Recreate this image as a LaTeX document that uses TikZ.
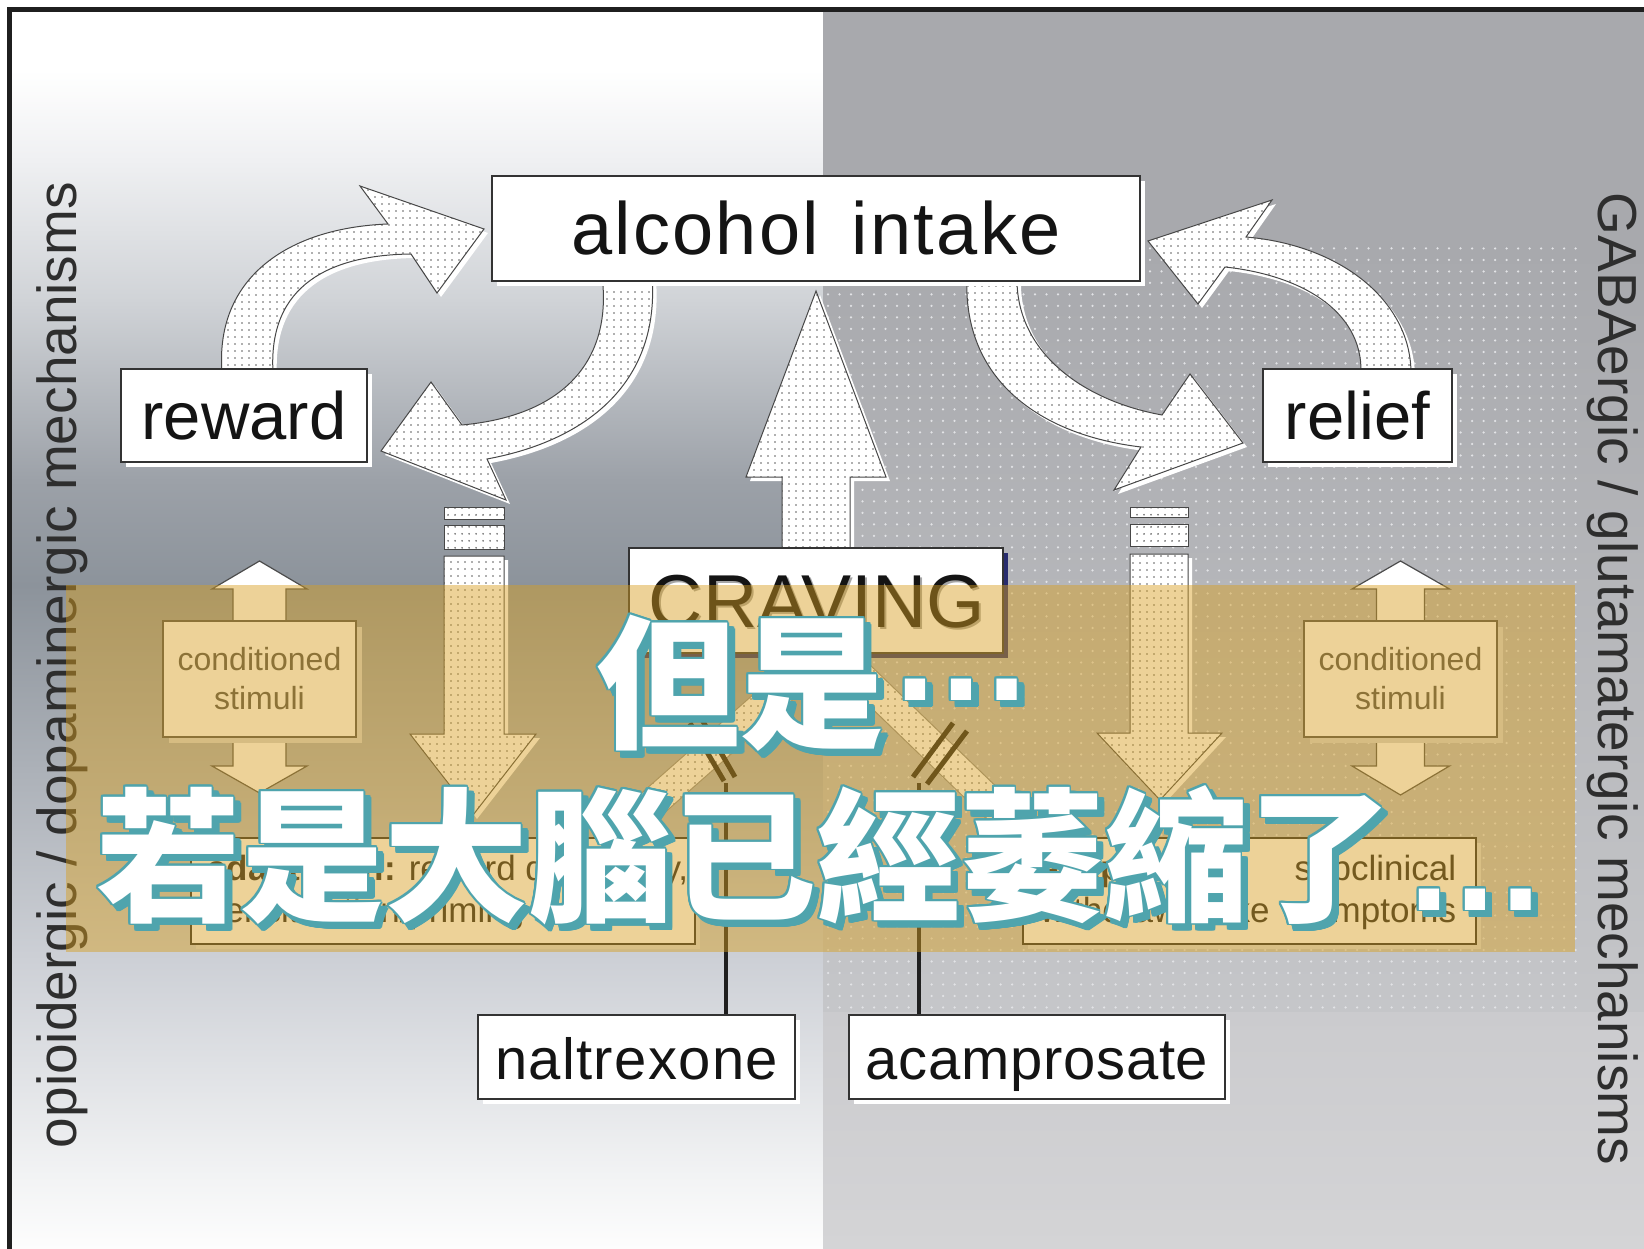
\documentclass[tikz,border=0pt]{standalone}
\usepackage{fontspec}
\setmainfont{Liberation Sans}
\newfontfamily\cjk{Noto Sans CJK TC}
\newfontfamily\elfont{Liberation Sans}
\usepackage{contour}
\contourlength{1.8pt}
\usetikzlibrary{patterns.meta,shadows}
\definecolor{tealc}{RGB}{79,164,173}
\definecolor{ovl}{RGB}{216,159,31}
\definecolor{lg1}{RGB}{239,240,242}
\definecolor{lg2}{RGB}{208,211,215}
\definecolor{lg3}{RGB}{156,161,168}
\definecolor{lg4}{RGB}{140,147,155}
\definecolor{lg5}{RGB}{205,208,214}
\definecolor{lg6}{RGB}{242,243,244}
\definecolor{lg7}{RGB}{253,253,253}
\definecolor{rg1}{RGB}{168,169,173}
\definecolor{rg2}{RGB}{197,198,201}
\definecolor{rg3}{RGB}{203,203,206}
\definecolor{rg4}{RGB}{212,212,214}
\definecolor{rdots}{RGB}{226,227,230}
\definecolor{navyshadow}{RGB}{40,44,110}
\def\pUL{(222,372) .. controls (215,280) and (285,228) .. (388,224) -- (360,186) -- (484,229) -- (437,293) -- (411,254) .. controls (330,255) and (268,285) .. (273,372) -- cycle}
\def\pRL{(652,276) .. controls (660,380) and (590,440) .. (487,459) -- (506,500) -- (381,451) -- (431,382) -- (462,425) .. controls (570,415) and (612,355) .. (602,276) -- cycle}
\def\pUR{(1411,372) .. controls (1410,300) and (1340,245) .. (1246,237) -- (1272,200) -- (1148,241) -- (1198,304) -- (1225,267) .. controls (1300,275) and (1362,310) .. (1361,372) -- cycle}
\def\pLR{(967,276) .. controls (962,380) and (1040,435) .. (1141,447) -- (1114,490) -- (1243,443) -- (1190,374) -- (1162,415) .. controls (1080,400) and (1015,350) .. (1017,276) -- cycle}
\def\pUP{(782,562) -- (782,477) -- (746,477) -- (816,291) -- (886,477) -- (850,477) -- (850,562) -- cycle}
\def\pDL{(444,556) -- (504,556) -- (504,734) -- (536,734) -- (473,815) -- (410,734) -- (444,734) -- cycle}
\def\pDR{(1130,554) -- (1188,554) -- (1188,733) -- (1222,733) -- (1160,800) -- (1097,733) -- (1130,733) -- cycle}
\def\pBL{(621.9,850.3) -- (832.9,664.3) -- (813.1,641.8) -- (602.1,827.8) -- cycle}
\def\pBR{(1039.4,828.2) -- (846.4,642.2) -- (825.6,663.8) -- (1018.6,849.8) -- cycle}
\def\pCL{(259.5,561) -- (307,589) -- (286,589) -- (286,766) -- (307,766) -- (259.5,793) -- (212,766) -- (233,766) -- (233,589) -- (212,589) -- cycle}
\def\pCR{(1400.5,561) -- (1449.5,589) -- (1424.5,589) -- (1424.5,766) -- (1449.5,766) -- (1400.5,795) -- (1352,766) -- (1376.5,766) -- (1376.5,589) -- (1352,589) -- cycle}
\newcommand\lineone{但是\hspace{5pt}{\elfont\bfseries\raisebox{37pt}{…}}}
\newcommand\linetwo{若是大腦已經萎縮了\hspace{11pt}{\elfont\bfseries\addfontfeature{LetterSpace=4}…}}
\begin{document}
\begin{tikzpicture}[x=1pt,y=-1pt,
  box/.style={draw=black!80, line width=1.6pt, fill=white, inner sep=0pt,
    drop shadow={shadow xshift=5pt, shadow yshift=-5pt, fill=white, opacity=1}},
  csbox/.style={draw=black!70, line width=1.3pt, fill=white, inner sep=0pt, align=center,
    font=\fontsize{32}{39}\selectfont, text=black!70,
    drop shadow={shadow xshift=6pt, shadow yshift=-6pt, fill=black!16, opacity=1}},
  adbox/.style={draw=black!85, line width=1.4pt, fill=white, inner sep=0pt,
    drop shadow={shadow xshift=5pt, shadow yshift=-5pt, fill=black!14, opacity=1}},
  dotarr/.style={preaction={fill=white}, pattern={Dots[distance=6.5pt,radius=0.95pt]},
    pattern color=black!62, draw=black!72, line width=1pt},
  glow/.style={fill=white, xshift=4pt, yshift=-4pt},
  plainarr/.style={fill=white, draw=black!70, line width=1.2pt},
  bigtxt/.style={font=\fontsize{67}{72}\selectfont, text=black!92},
  medtxt/.style={font=\fontsize{58}{64}\selectfont\addfontfeature{LetterSpace=2.3}, text=black!92,
    text height=44pt, text depth=0pt},
  medtxtb/.style={font=\fontsize{58}{64}\selectfont\addfontfeature{LetterSpace=1.2}, text=black!92,
    text height=44pt, text depth=0pt},
  adtxt/.style={font=\fontsize{35}{40}\selectfont, text=black!88, inner sep=0pt},
  sidetxt/.style={font=\fontsize{55}{60}\selectfont, text=black!82, inner sep=0pt},
  blk/.style={line width=5pt, black!90},
  vline/.style={line width=4pt, black!88},
  cjktxt/.style={font=\cjk\bfseries\fontsize{144}{150}\selectfont, inner sep=0pt}
]
\useasboundingbox (0,0) rectangle (1644,1249);
% ---------- background panels ----------
\fill[white] (0,0) rectangle (1644,1249);
\fill[white] (12,12) rectangle (823,70.5);
\shade[top color=white, bottom color=lg1] (12,70) rectangle (823,160.5);
\shade[top color=lg1, bottom color=lg2] (12,160) rectangle (823,300.5);
\shade[top color=lg2, bottom color=lg3] (12,300) rectangle (823,480.5);
\shade[top color=lg3, bottom color=lg4] (12,480) rectangle (823,585.5);
\shade[top color=lg4, bottom color=lg5] (12,585) rectangle (823,960.5);
\shade[top color=lg5, bottom color=lg6] (12,960) rectangle (823,1175.5);
\shade[top color=lg6, bottom color=lg7] (12,1175) rectangle (823,1249);
\fill[rg1] (823,12) rectangle (1644,250.5);
\shade[top color=rg1, bottom color=rg2] (823,250) rectangle (1644,1012.5);
\shade[top color=rg3, bottom color=rg4] (823,1012) rectangle (1644,1249);
\fill[pattern={Dots[distance=11.5pt,radius=1.25pt]}, pattern color=rdots] (823,245) rectangle (1578,1012);
% frame
\draw[line width=5pt, black!88] (9.5,1249) -- (9.5,9.5) -- (1644,9.5);
% ---------- side texts ----------
\node[sidetxt, rotate=90, anchor=base] (lside) at (76,665) {opioidergic / dopaminergic mechanisms};
\node[sidetxt, rotate=-90, anchor=base] (rside) at (1598,679) {GABAergic / glutamatergic mechanisms};
% ---------- arrows ----------
\foreach \p in {\pUL,\pRL,\pUR,\pLR,\pUP,\pDL,\pDR}{\fill[glow] \p;}
\draw[dotarr] \pUL;
\draw[dotarr] \pRL;
\draw[dotarr] \pUR;
\draw[dotarr] \pLR;
\draw[dotarr] \pUP;
\draw[dotarr] \pDL;
\draw[dotarr] \pDR;
\draw[dotarr] (444,507) rectangle (504,519);
\draw[dotarr] (444,525) rectangle (504,549);
\draw[dotarr] (1130,507) rectangle (1188,517);
\draw[dotarr] (1130,524) rectangle (1188,546);
\draw[dotarr, draw=black!45] \pBL;
\draw[dotarr, draw=black!45] \pBR;
\draw[plainarr] \pCL;
\draw[plainarr] \pCR;
% ---------- boxes ----------
\node[box, minimum width=648pt, minimum height=105pt, font=\fontsize{74}{80}\selectfont\addfontfeature{LetterSpace=3}, text=black!92] (intake) at (816,228.5) {alcohol\hspace{10pt} intake};
\node[box, bigtxt, minimum width=246pt, minimum height=93pt] (reward) at (244,415.5) {reward};
\node[box, bigtxt, minimum width=189pt, minimum height=93pt] (relief) at (1357.5,415.5) {relief};
\node[box, minimum width=374pt, minimum height=105pt,
  drop shadow={shadow xshift=5pt, shadow yshift=-5pt, fill=navyshadow, opacity=1}] (craving) at (816,600.5) {};
\node[font=\fontsize{75}{80}\selectfont, text=black!35, anchor=base] (cravsh) at (819,629) {CRAVING};
\node[font=\fontsize{75}{80}\selectfont, text=black!92, anchor=base] (cravtxt) at (817,627) {CRAVING};
\node[csbox, minimum width=193pt, minimum height=116pt] (cs1) at (259.5,679) {conditioned\\stimuli};
\node[csbox, minimum width=193pt, minimum height=116pt] (cs2) at (1400.5,679) {conditioned\\stimuli};
\node[adbox, minimum width=504pt, minimum height=106pt] (ad1) at (443,891) {};
\node[adbox, minimum width=453pt, minimum height=106pt] (ad2) at (1249.5,891) {};
\node[adtxt, anchor=base west] (ad1a) at (207,880) {\textbf{adaptation:} reward deficiency,};
\node[adtxt, anchor=base west] (ad1b) at (207,922) {sensitivation/priming};
\node[adtxt, anchor=base west] (ad2a) at (1040,880) {\makebox[416pt][l]{\textbf{adaptation:}\hfill subclinical}};
\node[adtxt, anchor=base west] (ad2b) at (1040,922) {\makebox[416pt][s]{withdrawal-like symptoms}};
\node[box, medtxt, minimum width=317pt, minimum height=84pt] (nal) at (636.5,1057) {naltrexone};
\node[box, medtxtb, minimum width=376pt, minimum height=84pt] (acam) at (1037,1057) {acamprosate};
% ---------- blockers and drug connectors ----------
\draw[blk] (690,723) -- (724,781);
\draw[blk] (701,718) -- (735,777);
\draw[blk] (953,723) -- (913,777);
\draw[blk] (967,731) -- (927,784);
\coordinate (k1) at (726,783);
\coordinate (k2) at (919,783);
\draw[vline] (k1) -- (k1 |- nal.north);
\draw[vline] (k2) -- (k2 |- acam.north);
% ---------- overlay ----------
\fill[ovl, opacity=0.46] (66,585) rectangle (1575,952);
\node[cjktxt, anchor=base west, text=tealc] (t1s) at (602,743) {\contour{tealc}{\lineone}};
\node[cjktxt, anchor=base west, text=white] (t1) at (596,737) {\contour{tealc}{\lineone}};
\node[cjktxt, anchor=base west, text=tealc] (t2s) at (102,916) {\contour{tealc}{\linetwo}};
\node[cjktxt, anchor=base west, text=white] (t2) at (96,910) {\contour{tealc}{\linetwo}};
\end{tikzpicture}
\end{document}
